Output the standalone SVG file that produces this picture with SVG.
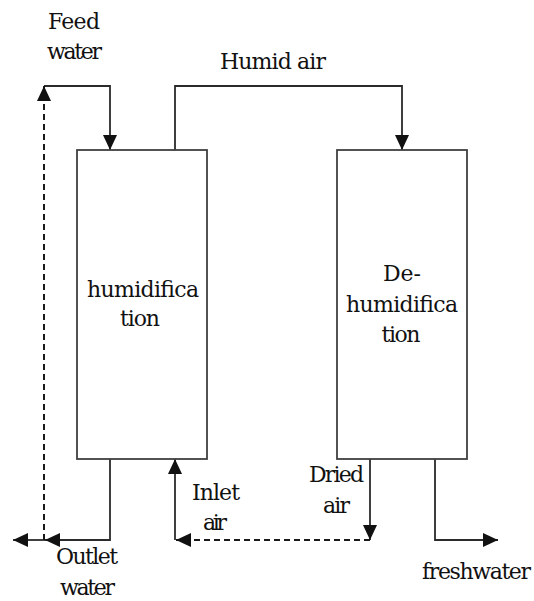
<svg xmlns="http://www.w3.org/2000/svg" width="534" height="601" viewBox="0 0 534 601">
  <style>
    .box { fill: #ffffff; stroke: #404040; stroke-width: 1.8; }
    .line { fill: none; stroke: #2b2b2b; stroke-width: 1.8; }
    .dash { stroke: #1a1a1a; stroke-width: 2; stroke-dasharray: 6 4; }
    text { font-family: 'DejaVu Serif', serif; font-size: 22px; fill: #111111; }
    .mid { text-anchor: middle; }
  </style>
  <defs>
    <marker id="arrow" markerUnits="userSpaceOnUse" markerWidth="15" markerHeight="14" refX="15" refY="7" orient="auto">
      <path d="M0,0 L15,7 L0,14 Z" fill="#111111"/>
    </marker>
  </defs>

  <rect width="534" height="601" fill="#ffffff"/>

  <!-- flow lines -->
  <g id="connectors">
    <!-- feed water into humidifier -->
    <polyline class="line" points="44,86 110,86 110,150" marker-end="url(#arrow)"/>
    <!-- humid air to dehumidifier -->
    <polyline class="line" points="175,150 175,86 402,86 402,150" marker-end="url(#arrow)"/>
    <!-- outlet water -->
    <polyline class="line" points="110,459 110,540 45,540" marker-end="url(#arrow)"/>
    <line class="line" x1="45" y1="540" x2="13" y2="540" marker-end="url(#arrow)"/>
    <!-- recycled water (dashed) -->
    <line class="line dash" x1="44" y1="540" x2="44" y2="86" marker-end="url(#arrow)"/>
    <!-- inlet air -->
    <line class="line" x1="175" y1="540" x2="175" y2="459" marker-end="url(#arrow)"/>
    <!-- dried air -->
    <line class="line" x1="370" y1="459" x2="370" y2="540" marker-end="url(#arrow)"/>
    <!-- recycled air (dashed) -->
    <line class="line dash" x1="370" y1="540" x2="176" y2="540" marker-end="url(#arrow)"/>
    <!-- freshwater -->
    <polyline class="line" points="435,459 435,540 498,540" marker-end="url(#arrow)"/>
  </g>

  <!-- humidifier column -->
  <g id="humidifier">
    <rect class="box" x="77" y="150" width="130" height="309"/>
    <text class="mid" x="143" y="297" textLength="112">humidifica</text>
    <text class="mid" x="140" y="326" textLength="40">tion</text>
  </g>

  <!-- dehumidifier column -->
  <g id="dehumidifier">
    <rect class="box" x="337" y="150" width="130" height="309"/>
    <text class="mid" x="402" y="281" textLength="38">De-</text>
    <text class="mid" x="402" y="312" textLength="112">humidifica</text>
    <text class="mid" x="401" y="342" textLength="39">tion</text>
  </g>

  <!-- stream labels -->
  <g id="labels">
    <text x="48" y="29" textLength="52">Feed</text>
    <text x="47" y="59" textLength="55">water</text>
    <text x="220" y="69" textLength="106">Humid air</text>
    <text x="56" y="564" textLength="62">Outlet</text>
    <text x="60" y="595" textLength="55">water</text>
    <text x="192" y="500" textLength="48">Inlet</text>
    <text x="203" y="530" textLength="24">air</text>
    <text x="309" y="482" textLength="55">Dried</text>
    <text x="323" y="513" textLength="27">air</text>
    <text x="422" y="579" textLength="109">freshwater</text>
  </g>
</svg>
